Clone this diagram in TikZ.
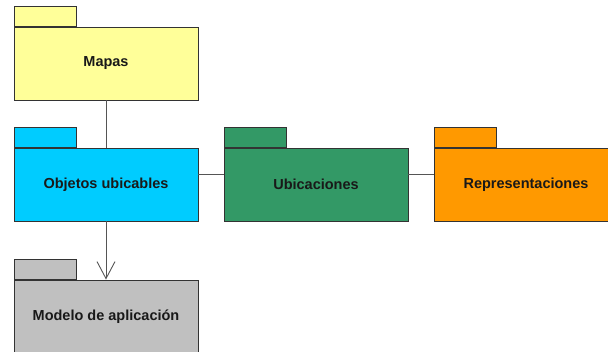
\documentclass[tikz,border=0pt]{standalone}
\usepackage{fontspec}
\setmainfont{Liberation Sans}
\usetikzlibrary{arrows.meta}

\definecolor{mapasfill}{HTML}{FFFF99}
\definecolor{objetosfill}{HTML}{00CCFF}
\definecolor{ubicfill}{HTML}{339966}
\definecolor{reprfill}{HTML}{FF9900}
\definecolor{modelofill}{HTML}{C0C0C0}
\definecolor{edgegray}{HTML}{333333}
\definecolor{linegray}{HTML}{555555}

\begin{document}
\begin{tikzpicture}[x=1pt,y=-1pt]

      \useasboundingbox (0,0) rectangle (608,352);
      \clip (0,0) rectangle (608,352);

      \begin{scope}[every node/.style={rectangle,draw=edgegray,line width=0.9pt,inner sep=0pt,
          minimum width=184pt,minimum height=73pt,text=black!90,
          font=\fontsize{14.5}{17}\selectfont\bfseries}]
        \node[fill=mapasfill] (mapas) at (106,63.5) {Mapas};
        \node[fill=objetosfill] (objetos) at (106,184.5) {Objetos ubicables};
        \node[fill=ubicfill] (ubicaciones) at (316,184.5) {Ubicaciones};
        \node[fill=reprfill] (representaciones) at (526,184.5) {Representaciones};
        \node[fill=modelofill] (modelo) at (106,316.5) {Modelo de aplicaci\'on};
      \end{scope}

      \begin{scope}[every node/.style={rectangle,draw=edgegray,line width=0.9pt,inner sep=0pt,
          minimum width=62pt,minimum height=20pt,anchor=south west}]
        \node[fill=mapasfill] (mapastab) at (mapas.north west) {};
        \node[fill=objetosfill] (objetostab) at (objetos.north west) {};
        \node[fill=ubicfill] (ubicacionestab) at (ubicaciones.north west) {};
        \node[fill=reprfill] (representacionestab) at (representaciones.north west) {};
        \node[fill=modelofill] (modelotab) at (modelo.north west) {};
      \end{scope}

      \begin{scope}[every path/.style={draw=linegray,line width=0.9pt}]
        \path (mapas) -- (objetos);
        \path ([yshift=10.5pt]objetos.east) -- ([yshift=10.5pt]ubicaciones.west);
        \path ([yshift=10.5pt]ubicaciones.east) -- ([yshift=10.5pt]representaciones.west);
        \path[-{Straight Barb[length=17pt,width=18pt,line width=0.9pt]}] (objetos) -- (modelo);
      \end{scope}

    \end{tikzpicture}
\end{document}
